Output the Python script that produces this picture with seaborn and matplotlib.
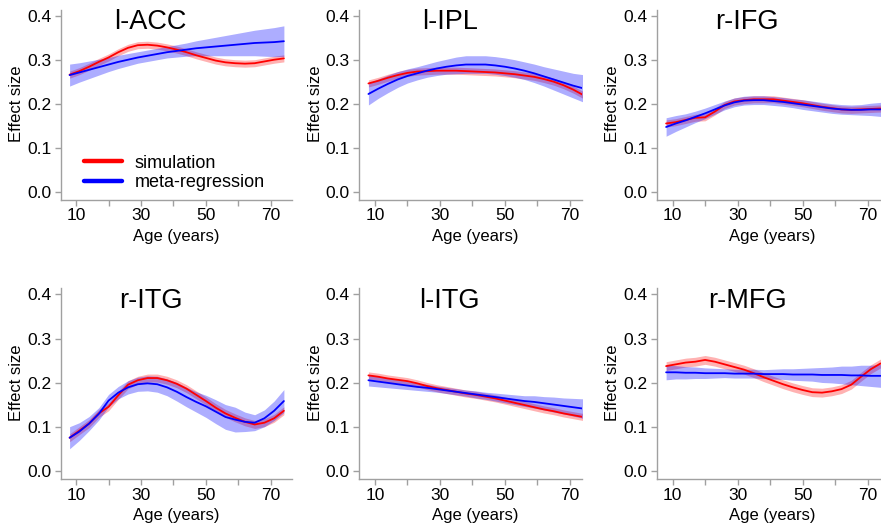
import numpy as np
import pandas as pd
import matplotlib
matplotlib.use("Agg")
import matplotlib.pyplot as plt
from matplotlib.lines import Line2D
import seaborn as sns

sns.set_style("white")
plt.rcParams['font.family'] = ['Liberation Sans', 'DejaVu Sans']
plt.rcParams['text.color'] = 'black'

ages = [8, 11, 14, 17, 20, 23, 26, 29, 32, 35, 38, 41, 44, 47, 50, 53, 56, 59, 62, 65, 68, 71, 74]

regions = ["l-ACC", "l-IPL", "r-IFG", "r-ITG", "l-ITG", "r-MFG"]

# simulation (red) curves
sim_lACC = [0.267, 0.275, 0.285, 0.296, 0.306, 0.318, 0.328, 0.334, 0.335, 0.333, 0.329, 0.324, 0.318, 0.311, 0.305, 0.299, 0.295, 0.293, 0.292, 0.293, 0.297, 0.301, 0.304]
sim_lIPL = [0.247, 0.253, 0.260, 0.266, 0.271, 0.274, 0.275, 0.276, 0.276, 0.276, 0.275, 0.274, 0.273, 0.272, 0.270, 0.268, 0.265, 0.262, 0.257, 0.251, 0.243, 0.233, 0.221]
sim_rIFG = [0.156, 0.159, 0.164, 0.169, 0.170, 0.183, 0.198, 0.206, 0.209, 0.211, 0.211, 0.211, 0.208, 0.205, 0.202, 0.198, 0.194, 0.191, 0.188, 0.187, 0.188, 0.189, 0.190]
sim_rITG = [0.076, 0.092, 0.108, 0.131, 0.146, 0.172, 0.196, 0.206, 0.211, 0.211, 0.206, 0.198, 0.187, 0.173, 0.159, 0.144, 0.131, 0.121, 0.112, 0.106, 0.110, 0.120, 0.137]
sim_lITG = [0.217, 0.214, 0.210, 0.207, 0.204, 0.199, 0.193, 0.188, 0.184, 0.180, 0.176, 0.173, 0.169, 0.165, 0.160, 0.155, 0.150, 0.145, 0.140, 0.136, 0.131, 0.127, 0.123]
sim_rMFG = [0.238, 0.242, 0.246, 0.248, 0.252, 0.248, 0.242, 0.236, 0.230, 0.222, 0.213, 0.205, 0.197, 0.190, 0.184, 0.179, 0.178, 0.181, 0.186, 0.196, 0.214, 0.231, 0.244]

# simulation band half-widths
sim_hw_lACC = [0.008] * 23
sim_hw_lIPL = [0.008] * 23
sim_hw_rIFG = [0.008] * 23
sim_hw_rITG = [0.009] * 23
sim_hw_lITG = [0.008] * 23
sim_hw_rMFG = [0.010] * 23

# meta-regression (blue) curves
meta_lACC = [0.266, 0.272, 0.278, 0.284, 0.290, 0.296, 0.301, 0.306, 0.310, 0.314, 0.318, 0.321, 0.324, 0.327, 0.329, 0.331, 0.333, 0.335, 0.337, 0.339, 0.340, 0.341, 0.343]
meta_lIPL = [0.223, 0.235, 0.246, 0.256, 0.264, 0.270, 0.276, 0.281, 0.285, 0.288, 0.290, 0.290, 0.290, 0.288, 0.285, 0.281, 0.276, 0.270, 0.263, 0.256, 0.249, 0.242, 0.236]
meta_rIFG = [0.148, 0.156, 0.163, 0.171, 0.179, 0.188, 0.197, 0.204, 0.208, 0.209, 0.209, 0.207, 0.205, 0.202, 0.199, 0.196, 0.193, 0.190, 0.188, 0.187, 0.187, 0.188, 0.188]
meta_rITG = [0.076, 0.090, 0.108, 0.130, 0.160, 0.178, 0.190, 0.197, 0.199, 0.197, 0.190, 0.180, 0.168, 0.157, 0.147, 0.135, 0.123, 0.117, 0.112, 0.110, 0.120, 0.137, 0.159]
meta_lITG = [0.206, 0.203, 0.200, 0.197, 0.194, 0.191, 0.189, 0.186, 0.183, 0.180, 0.177, 0.174, 0.171, 0.168, 0.165, 0.162, 0.159, 0.157, 0.154, 0.151, 0.148, 0.145, 0.142]
meta_rMFG = [0.224, 0.224, 0.223, 0.223, 0.222, 0.222, 0.222, 0.221, 0.221, 0.221, 0.220, 0.220, 0.220, 0.219, 0.219, 0.219, 0.218, 0.218, 0.218, 0.217, 0.217, 0.216, 0.216]

# meta-regression band half-widths
meta_hw_lACC = [0.025, 0.022, 0.020, 0.018, 0.016, 0.015, 0.014, 0.013, 0.013, 0.013, 0.013, 0.014, 0.015, 0.017, 0.019, 0.021, 0.023, 0.025, 0.027, 0.029, 0.031, 0.033, 0.035]
meta_hw_lIPL = [0.025, 0.022, 0.020, 0.018, 0.016, 0.015, 0.015, 0.016, 0.017, 0.019, 0.020, 0.020, 0.020, 0.020, 0.020, 0.020, 0.020, 0.021, 0.022, 0.024, 0.026, 0.028, 0.031]
meta_hw_rIFG = [0.021, 0.018, 0.015, 0.013, 0.012, 0.011, 0.010, 0.010, 0.010, 0.010, 0.010, 0.010, 0.010, 0.010, 0.011, 0.011, 0.011, 0.011, 0.011, 0.011, 0.012, 0.014, 0.016]
meta_hw_rITG = [0.025, 0.020, 0.016, 0.014, 0.014, 0.014, 0.015, 0.016, 0.017, 0.018, 0.019, 0.021, 0.022, 0.023, 0.025, 0.027, 0.028, 0.028, 0.022, 0.018, 0.019, 0.022, 0.026]
meta_hw_lITG = [0.013, 0.012, 0.011, 0.010, 0.009, 0.008, 0.008, 0.007, 0.007, 0.007, 0.007, 0.008, 0.008, 0.009, 0.010, 0.011, 0.012, 0.014, 0.015, 0.017, 0.018, 0.020, 0.022]
meta_hw_rMFG = [0.017, 0.015, 0.014, 0.013, 0.012, 0.011, 0.010, 0.010, 0.010, 0.010, 0.010, 0.011, 0.012, 0.013, 0.014, 0.015, 0.017, 0.018, 0.020, 0.021, 0.023, 0.024, 0.026]

sim_all = [sim_lACC, sim_lIPL, sim_rIFG, sim_rITG, sim_lITG, sim_rMFG]
sim_hw_all = [sim_hw_lACC, sim_hw_lIPL, sim_hw_rIFG, sim_hw_rITG, sim_hw_lITG, sim_hw_rMFG]
meta_all = [meta_lACC, meta_lIPL, meta_rIFG, meta_rITG, meta_lITG, meta_rMFG]
meta_hw_all = [meta_hw_lACC, meta_hw_lIPL, meta_hw_rIFG, meta_hw_rITG, meta_hw_lITG, meta_hw_rMFG]

xticks = [10, 20, 30, 40, 50, 60, 70]
xticklabels = ["10", "", "30", "", "50", "", "70"]
yticks = [0.0, 0.1, 0.2, 0.3, 0.4]
yticklabels = ["0.0", "0.1", "0.2", "0.3", "0.4"]

RED = "#ff0000"
BLUE = "#0000ff"
GRAY = "#a0a0a0"

W, H = 881, 531
fig = plt.figure(figsize=(W / 100, H / 100), dpi=100)

col_left = [61, 359, 657]
col_w = [231, 223, 231]
col_xlim = [(5.35, 76.5), (5.1, 73.7), (5.2, 76.3)]
row_bottom = [331, 51.7]
row_h = [190, 191]

for i, name in enumerate(regions):
    r, c = divmod(i, 3)
    ax = fig.add_axes([col_left[c] / W, row_bottom[r] / H, col_w[c] / W, row_h[r] / H])
    df = pd.DataFrame({"age": ages, "sim": sim_all[i], "meta": meta_all[i],
                       "sim_hw": sim_hw_all[i], "meta_hw": meta_hw_all[i]})
    ax.fill_between(df["age"], df["sim"] - df["sim_hw"], df["sim"] + df["sim_hw"],
                    color=RED, alpha=0.3, linewidth=0)
    sns.lineplot(data=df, x="age", y="sim", ax=ax, color=RED, linewidth=1.3, errorbar=None)
    ax.fill_between(df["age"], df["meta"] - df["meta_hw"], df["meta"] + df["meta_hw"],
                    color=BLUE, alpha=0.32, linewidth=0)
    sns.lineplot(data=df, x="age", y="meta", ax=ax, color=BLUE, linewidth=1.3, errorbar=None)

    ax.set_xlim(*col_xlim[c])
    ax.set_ylim(-0.018, 0.414)
    ax.set_xticks(xticks)
    ax.set_xticklabels(xticklabels)
    ax.set_yticks(yticks)
    ax.set_yticklabels(yticklabels)
    for s in ["top", "right"]:
        ax.spines[s].set_visible(False)
    for s in ["left", "bottom"]:
        ax.spines[s].set_color(GRAY)
        ax.spines[s].set_linewidth(1.0)
    ax.tick_params(axis="both", direction="out", length=4, width=1.0, color=GRAY,
                   labelsize=12.5, labelcolor="black", bottom=True, left=True)
    ax.tick_params(axis="x", pad=2)
    ax.tick_params(axis="y", pad=2.5)
    ax.set_xlabel("Age (years)", fontsize=12, color="black")
    ax.set_ylabel("Effect size", fontsize=12, color="black")
    ax.xaxis.set_label_coords(0.5 if c != 1 else 0.52, -0.15)
    ax.yaxis.set_label_coords(-0.16, 0.505)
    ax.text(33, 0.386, name, fontsize=19.5, ha="center", va="center", color="black")
    ax.set_facecolor("none")

    if i == 0:
        handles = [Line2D([], [], color=RED, lw=3.2), Line2D([], [], color=BLUE, lw=3.2)]
        leg = ax.legend(handles, ["simulation", "meta-regression"], loc="lower left",
                        bbox_to_anchor=(0.10, 0.045), frameon=False, fontsize=13,
                        handlelength=2.1, handletextpad=0.7, labelspacing=0.15,
                        borderpad=0, borderaxespad=0)
        for t in leg.get_texts():
            t.set_color("black")

fig.savefig("out.png", dpi=100)
